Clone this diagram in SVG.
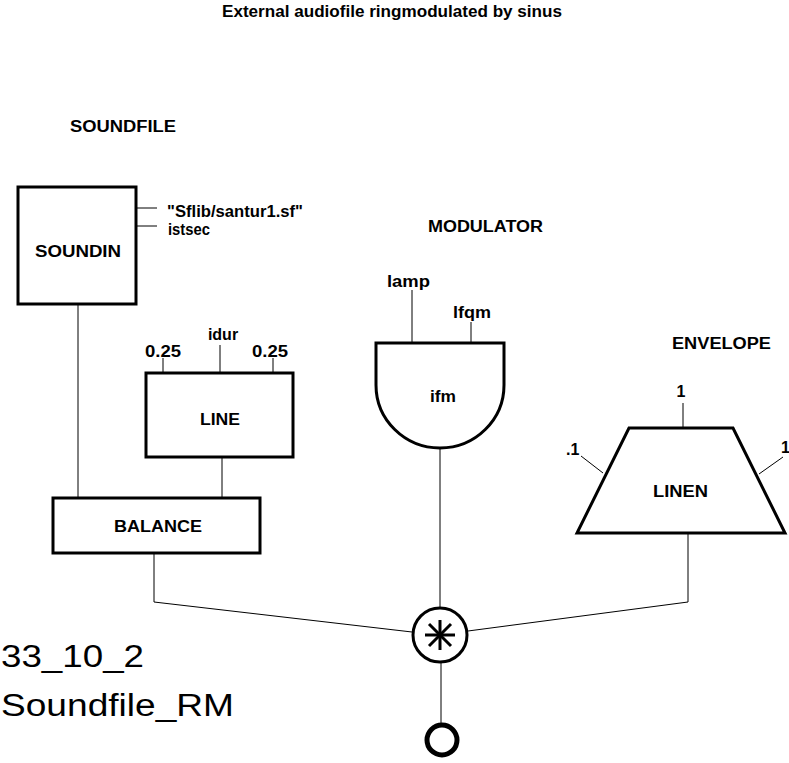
<svg xmlns="http://www.w3.org/2000/svg" width="789" height="763" viewBox="0 0 789 763">
<style>
text{font-family:"Liberation Sans",Arial,sans-serif;fill:#000}
.b{font-weight:bold;font-size:16px}
.c{text-anchor:middle}
.big{font-size:31px}
.node{fill:#fff;stroke:#000;stroke-width:3}
.w{stroke:#000;stroke-width:1;fill:none}
</style>
<rect width="789" height="763" fill="#fff"/>
<text class="b" x="222" y="17" textLength="340" lengthAdjust="spacingAndGlyphs">External audiofile ringmodulated by sinus</text>
<text class="b" x="70" y="132" textLength="106" lengthAdjust="spacingAndGlyphs">SOUNDFILE</text>
<text class="b" x="428" y="232" textLength="115" lengthAdjust="spacingAndGlyphs">MODULATOR</text>
<text class="b" x="672" y="349" textLength="99" lengthAdjust="spacingAndGlyphs">ENVELOPE</text>
<g id="connectors" class="w">
<line x1="137" y1="208" x2="157" y2="208"/>
<line x1="137" y1="226" x2="157" y2="226"/>
<line x1="78" y1="304" x2="78" y2="497"/>
<line x1="163" y1="358" x2="163" y2="372"/>
<line x1="220" y1="345" x2="220" y2="372"/>
<line x1="273" y1="358" x2="273" y2="372"/>
<line x1="222" y1="457" x2="222" y2="497"/>
<line x1="412" y1="290" x2="412" y2="343"/>
<line x1="471" y1="322" x2="471" y2="343"/>
<line x1="683" y1="403" x2="683" y2="428"/>
<line x1="581" y1="456" x2="603" y2="473"/>
<line x1="783" y1="457" x2="759" y2="474"/>
<polyline points="154,553 154,602 412,632"/>
<polyline points="688,533 688,602 468,631"/>
<line x1="440" y1="448" x2="440" y2="607"/>
<line x1="441" y1="663" x2="441" y2="725"/>
</g>
<g id="soundin">
<rect class="node" x="18" y="187" width="118" height="117"/>
<text class="b" x="35" y="257" textLength="86" lengthAdjust="spacingAndGlyphs">SOUNDIN</text>
<text class="b" x="167" y="217" textLength="136" lengthAdjust="spacingAndGlyphs">"Sflib/santur1.sf"</text>
<text class="b" x="168" y="235" textLength="42" lengthAdjust="spacingAndGlyphs">istsec</text>
</g>
<g id="line">
<rect class="node" x="146" y="373" width="147" height="84"/>
<text class="b" x="200" y="425" textLength="40" lengthAdjust="spacingAndGlyphs">LINE</text>
<text class="b" x="145" y="357" textLength="36" lengthAdjust="spacingAndGlyphs">0.25</text>
<text class="b c" x="223" y="340">idur</text>
<text class="b" x="252" y="357" textLength="36" lengthAdjust="spacingAndGlyphs">0.25</text>
</g>
<g id="balance">
<rect class="node" x="53" y="498" width="207" height="55"/>
<text class="b" x="114" y="532" textLength="88" lengthAdjust="spacingAndGlyphs">BALANCE</text>
</g>
<g id="ifm">
<path class="node" d="M376,343 H504 V385 A64,63 0 0 1 376,385 Z"/>
<text class="b" x="430" y="402" textLength="26" lengthAdjust="spacingAndGlyphs">ifm</text>
<text class="b" x="387" y="287" textLength="43" lengthAdjust="spacingAndGlyphs">lamp</text>
<text class="b" x="453" y="318" textLength="38" lengthAdjust="spacingAndGlyphs">lfqm</text>
</g>
<g id="linen">
<polygon class="node" points="629,428 733,428 785,533 577,533"/>
<text class="b" x="653" y="497" textLength="55" lengthAdjust="spacingAndGlyphs">LINEN</text>
<text class="b c" x="681" y="397">1</text>
<text class="b" x="566" y="455">.1</text>
<text class="b" x="781" y="453">1</text>
</g>
<g id="mult">
<circle class="node" cx="440" cy="635" r="27"/>
<g stroke="#000" stroke-width="3">
<line x1="440" y1="620" x2="440" y2="650"/>
<line x1="425" y1="635" x2="455" y2="635"/>
<line x1="429" y1="624" x2="451" y2="646"/>
<line x1="451" y1="624" x2="429" y2="646"/>
</g>
</g>
<g id="out">
<circle cx="442" cy="740" r="15" fill="#fff" stroke="#000" stroke-width="5"/>
</g>
<text class="big" x="1" y="667" textLength="143" lengthAdjust="spacingAndGlyphs">33_10_2</text>
<text class="big" x="1" y="716" textLength="233" lengthAdjust="spacingAndGlyphs">Soundfile_RM</text>
</svg>
